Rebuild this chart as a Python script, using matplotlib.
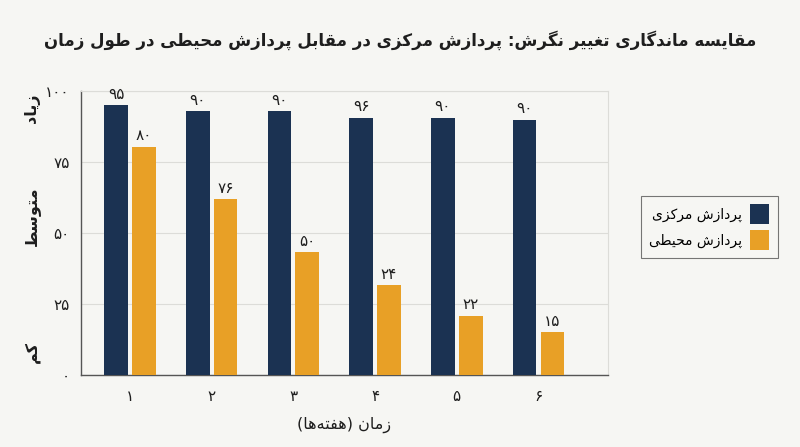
import matplotlib
matplotlib.use('Agg')
import matplotlib.pyplot as plt
import numpy as np
from matplotlib.patches import Patch

# ---- data ----
weeks = ['1', '2', '3', '4', '5', '6']
central = [95, 93, 93, 90.6, 90.6, 90]
peripheral = [80.4, 62, 43.2, 31.7, 20.9, 15]
central_labels = ['95', '90', '90', '96', '90', '90']
peripheral_labels = ['80', '76', '50', '24', '22', '15']
yticks = [0, 25, 50, 75, 100]
level_labels = ['کم', 'متوسط', 'زیاد']
level_positions = [8, 56, 94]
series_names = ['پردازش مرکزی', 'پردازش محیطی']
title_text = 'مقایسه ماندگاری تغییر نگرش: پردازش مرکزی در مقابل پردازش محیطی در طول زمان'
xlabel_text = 'زمان (هفته\u200cها)'

# ---- minimal Persian shaping (presentation forms + visual order) ----
FORMS = {
    '\u0627': (0xFE8D, 0xFE8E, None, None),
    '\u0622': (0xFE81, 0xFE82, None, None),
    '\u0628': (0xFE8F, 0xFE90, 0xFE91, 0xFE92),
    '\u067E': (0xFB56, 0xFB57, 0xFB58, 0xFB59),
    '\u062A': (0xFE95, 0xFE96, 0xFE97, 0xFE98),
    '\u062B': (0xFE99, 0xFE9A, 0xFE9B, 0xFE9C),
    '\u062C': (0xFE9D, 0xFE9E, 0xFE9F, 0xFEA0),
    '\u0686': (0xFB7A, 0xFB7B, 0xFB7C, 0xFB7D),
    '\u062D': (0xFEA1, 0xFEA2, 0xFEA3, 0xFEA4),
    '\u062E': (0xFEA5, 0xFEA6, 0xFEA7, 0xFEA8),
    '\u062F': (0xFEA9, 0xFEAA, None, None),
    '\u0630': (0xFEAB, 0xFEAC, None, None),
    '\u0631': (0xFEAD, 0xFEAE, None, None),
    '\u0632': (0xFEAF, 0xFEB0, None, None),
    '\u0698': (0xFB8A, 0xFB8B, None, None),
    '\u0633': (0xFEB1, 0xFEB2, 0xFEB3, 0xFEB4),
    '\u0634': (0xFEB5, 0xFEB6, 0xFEB7, 0xFEB8),
    '\u0635': (0xFEB9, 0xFEBA, 0xFEBB, 0xFEBC),
    '\u0636': (0xFEBD, 0xFEBE, 0xFEBF, 0xFEC0),
    '\u0637': (0xFEC1, 0xFEC2, 0xFEC3, 0xFEC4),
    '\u0638': (0xFEC5, 0xFEC6, 0xFEC7, 0xFEC8),
    '\u0639': (0xFEC9, 0xFECA, 0xFECB, 0xFECC),
    '\u063A': (0xFECD, 0xFECE, 0xFECF, 0xFED0),
    '\u0641': (0xFED1, 0xFED2, 0xFED3, 0xFED4),
    '\u0642': (0xFED5, 0xFED6, 0xFED7, 0xFED8),
    '\u06A9': (0xFB8E, 0xFB8F, 0xFB90, 0xFB91),
    '\u06AF': (0xFB92, 0xFB93, 0xFB94, 0xFB95),
    '\u0644': (0xFEDD, 0xFEDE, 0xFEDF, 0xFEE0),
    '\u0645': (0xFEE1, 0xFEE2, 0xFEE3, 0xFEE4),
    '\u0646': (0xFEE5, 0xFEE6, 0xFEE7, 0xFEE8),
    '\u0647': (0xFEE9, 0xFEEA, 0xFEEB, 0xFEEC),
    '\u0648': (0xFEED, 0xFEEE, None, None),
    '\u06CC': (0xFBFC, 0xFBFD, 0xFBFE, 0xFBFF),
}
FA_DIGITS = str.maketrans('0123456789', '۰۱۲۳۴۵۶۷۸۹')


def fa_num(s):
    return str(s).translate(FA_DIGITS)


def shape(s):
    chars = list(s)
    out = []
    i = 0
    n = len(chars)
    while i < n:
        c = chars[i]
        if c not in FORMS:
            if c != '\u200c':
                out.append(c)
            i += 1
            continue
        prev = chars[i - 1] if i > 0 else None
        nxt = chars[i + 1] if i + 1 < n else None
        jp = prev in FORMS and FORMS[prev][2] is not None
        if c == '\u0644' and nxt == '\u0627':
            out.append(chr(0xFEFC if jp else 0xFEFB))
            i += 2
            continue
        jn = nxt in FORMS and FORMS[c][2] is not None
        iso, fin, ini, med = FORMS[c]
        if jp and jn:
            code = med
        elif jp:
            code = fin
        elif jn:
            code = ini
        else:
            code = iso
        out.append(chr(code))
        i += 1
    mirror = {'(': ')', ')': '('}
    vis = [mirror.get(ch, ch) for ch in reversed(out)]
    return ''.join(vis)


# ---- style ----
BG = '#f6f6f3'
NAVY = '#1b3252'
ORANGE = '#e8a026'
TXT = '#1e1e1e'
plt.rcParams['font.family'] = ['DejaVu Sans']

fig = plt.figure(figsize=(8, 4.47), dpi=100, facecolor=BG)
ax = fig.add_axes([0.101, 0.161, 0.659, 0.635])
ax.set_facecolor(BG)

x = np.arange(len(weeks))
w = 0.29
off = 0.17
b1 = ax.bar(x - off, central, w, color=NAVY, zorder=3)
b2 = ax.bar(x + off, peripheral, w, color=ORANGE, zorder=3)

for rect, lab in zip(b1, central_labels):
    ax.annotate(fa_num(lab), (rect.get_x() + rect.get_width() / 2, rect.get_height()),
                xytext=(0, 2.5), textcoords='offset points', ha='center', va='bottom',
                fontsize=11, color=TXT)
for rect, lab in zip(b2, peripheral_labels):
    ax.annotate(fa_num(lab), (rect.get_x() + rect.get_width() / 2, rect.get_height()),
                xytext=(0, 2.5), textcoords='offset points', ha='center', va='bottom',
                fontsize=11, color=TXT)

ax.set_xlim(-0.6, 5.85)
ax.set_ylim(0, 100)
ax.set_xticks(x)
ax.set_xticklabels([fa_num(v) for v in weeks])
ax.set_yticks(yticks)
ax.set_yticklabels([fa_num(v) for v in yticks])
ax.tick_params(axis='both', length=0, labelsize=11, colors=TXT)
ax.tick_params(axis='x', pad=10)
ax.tick_params(axis='y', pad=8)

ax.grid(axis='y', color='#dcdcd8', linewidth=0.8, zorder=0)
for side in ['top', 'right']:
    ax.spines[side].set_color('#dcdcd8')
    ax.spines[side].set_linewidth(0.8)
for side in ['left', 'bottom']:
    ax.spines[side].set_color('#555555')
    ax.spines[side].set_linewidth(1.0)

ax.set_xlabel(shape(xlabel_text), fontsize=11.5, color=TXT, labelpad=9)

for lab, pos in zip(level_labels, level_positions):
    ax.text(-0.092, pos, shape(lab), transform=ax.get_yaxis_transform(),
            rotation=90, ha='center', va='center', fontsize=11.5,
            fontweight='bold', color=TXT)

fig.text(0.5, 0.91, shape(title_text), ha='center', va='center',
         fontsize=12, fontweight='bold', color=TXT)

handles = [Patch(facecolor=NAVY), Patch(facecolor=ORANGE)]
leg = fig.legend(handles, [shape(s) for s in series_names],
                 loc='upper left', bbox_to_anchor=(0.801, 0.5615),
                 borderaxespad=0, markerfirst=False, frameon=True, fontsize=10,
                 handlelength=1.4, handleheight=1.8, borderpad=0.6,
                 labelspacing=0.45, handletextpad=0.55, fancybox=False)
leg.get_frame().set_edgecolor('#555555')
leg.get_frame().set_facecolor(BG)
leg.get_frame().set_linewidth(0.8)

fig.savefig('out.png', dpi=100, facecolor=BG)
